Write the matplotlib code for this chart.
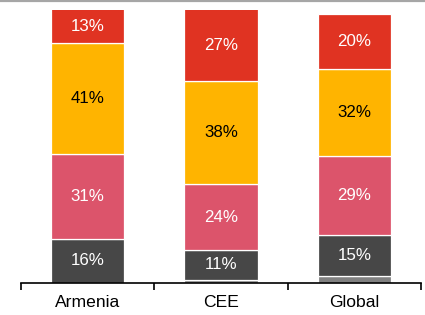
import matplotlib
matplotlib.use("Agg")
import matplotlib.pyplot as plt
from matplotlib.lines import Line2D
import numpy as np

categories = ["Armenia", "CEE", "Global"]
other = [0, 1, 2.5]
seg1 = [16, 11, 15]
seg2 = [31, 24, 29]
seg3 = [41, 38, 32]
seg4 = [13, 27, 20]

series = [other, seg1, seg2, seg3, seg4]
colors = ["#808080", "#474747", "#DC546B", "#FFB400", "#E03322"]
text_colors = [None, "white", "white", "black", "white"]
show_label = [False, True, True, True, True]

plt.rcParams["font.family"] = ["Liberation Sans", "DejaVu Sans"]

fig = plt.figure(figsize=(4.25, 3.15), dpi=100)
ax = fig.add_axes([21 / 425, 32.5 / 315, 400 / 425, 272.5 / 315])

x = np.arange(len(categories))
bottom = np.zeros(len(categories))
for vals, col, tc, sl in zip(series, colors, text_colors, show_label):
    vals = np.array(vals, dtype=float)
    ax.bar(x, vals, width=0.55, bottom=bottom, color=col, edgecolor="white",
           linewidth=0.9, zorder=2)
    if sl:
        for xi, b, v in zip(x, bottom, vals):
            top = min(b + v, 100)
            ax.text(xi, (b + top) / 2, f"{int(round(v))}%", ha="center", va="center",
                    color=tc, fontsize=12.2, zorder=3)
    bottom += vals

ax.set_xlim(-0.5, 2.5)
ax.set_ylim(0, 100)
for s in ["top", "right", "left"]:
    ax.spines[s].set_visible(False)
ax.spines["bottom"].set_linewidth(1.2)
ax.spines["bottom"].set_color("black")
ax.set_yticks([])
ax.set_xticks(x)
ax.set_xticklabels(categories, fontsize=12.6)
ax.tick_params(axis="x", which="major", length=0, pad=9)
ax.set_xticks([-0.5, 0.5, 1.5, 2.5], minor=True)
ax.tick_params(axis="x", which="minor", length=5, width=1.2, color="black")

fig.add_artist(Line2D([0, 1], [0.997, 0.997], transform=fig.transFigure,
                      color="#A6A6A6", linewidth=1.6))

fig.savefig("out.png", dpi=100)
